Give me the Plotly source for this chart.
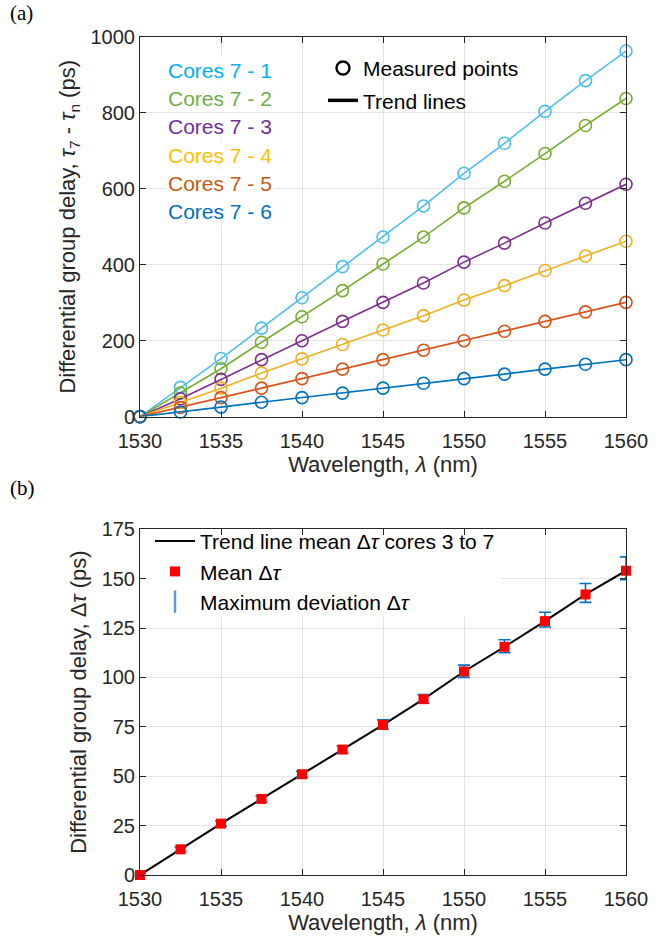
import plotly.graph_objects as go

# ---------------- data ----------------
wavelength = [1530, 1532.5, 1535, 1537.5, 1540, 1542.5, 1545, 1547.5, 1550, 1552.5, 1555, 1557.5, 1560]

core_labels = ["Cores 7 - 1", "Cores 7 - 2", "Cores 7 - 3", "Cores 7 - 4", "Cores 7 - 5", "Cores 7 - 6"]
cores_7_1 = [0, 77, 153, 233, 313, 395, 473, 555, 641, 720, 804, 885, 963]
cores_7_2 = [0, 62, 126, 196, 263, 332, 402, 473, 550, 620, 693, 767, 838]
cores_7_3 = [0, 47, 98, 150, 200, 251, 301, 352, 407, 457, 510, 562, 612]
cores_7_4 = [0, 37, 75, 115, 152, 190, 228, 266, 307, 345, 385, 423, 462]
cores_7_5 = [0, 24, 50, 75, 100, 125, 150, 175, 200, 225, 251, 276, 301]
cores_7_6 = [0, 12, 25, 38, 50, 62, 75, 88, 100, 112, 125, 138, 150]
core_series = [cores_7_1, cores_7_2, cores_7_3, cores_7_4, cores_7_5, cores_7_6]

mean_dtau = [0, 13, 26, 38.5, 51, 63.5, 76, 89, 103, 115.5, 128.5, 142, 154]
dev_plus = [1.0, 1.2, 1.3, 1.4, 1.5, 1.8, 2.5, 2.3, 3.2, 3.6, 4.5, 5.5, 7.0]
dev_minus = [1.0, 1.2, 1.3, 1.4, 1.5, 1.8, 2.2, 2.0, 3.0, 3.0, 3.0, 4.0, 4.5]

# ---------------- styles ----------------
line_colors = ["#4DBEEE", "#77AC30", "#7E2F8E", "#EDB120", "#D95319", "#0072BD"]
text_colors = ["#00B0F0", "#70AD47", "#7030A0", "#FFC000", "#C55A11", "#0070C0"]
FONT = "Liberation Sans, Arial, sans-serif"
AX = "#262626"
GRID = "#e3e3e3"
TICK_SIZE = 20
TITLE_SIZE = 22
LEG_SIZE = 21

fig = go.Figure()

for name, ys, col in zip(core_labels, core_series, line_colors):
    fig.add_trace(go.Scatter(
        x=wavelength, y=ys, mode="lines+markers", name=name, showlegend=False, cliponaxis=False,
        line=dict(color=col, width=1.6),
        marker=dict(symbol="circle-open", size=12, color=col, line=dict(width=1.6, color=col)),
        xaxis="x", yaxis="y"))

# legend2 dummy entries for panel (a)
fig.add_trace(go.Scatter(x=[None], y=[None], mode="markers", name="Measured points",
                         legendgroup="m",
                         marker=dict(symbol="circle-open", size=13, color="black", line=dict(width=2.4, color="black")),
                         legend="legend2", xaxis="x", yaxis="y"))
fig.add_trace(go.Scatter(x=[None], y=[None], mode="lines", name="Trend lines",
                         legendgroup="t",
                         line=dict(color="black", width=3.5),
                         legend="legend2", xaxis="x", yaxis="y"))

# panel (b)
fig.add_trace(go.Scatter(x=wavelength, y=mean_dtau, mode="lines", legendgroup="a",
                         name="Trend line mean Δ<i>τ</i> cores 3 to 7", cliponaxis=False,
                         line=dict(color="black", width=2), xaxis="x2", yaxis="y2"))
fig.add_trace(go.Scatter(x=wavelength, y=mean_dtau, mode="markers", showlegend=False, cliponaxis=False,
                         marker=dict(symbol="square", size=1, color="rgba(0,0,0,0)"),
                         error_y=dict(type="data", symmetric=False, array=dev_plus, arrayminus=dev_minus,
                                      color="#0072BD", thickness=1.6, width=6),
                         xaxis="x2", yaxis="y2"))
fig.add_trace(go.Scatter(x=wavelength, y=mean_dtau, mode="markers", name="Mean Δ<i>τ</i>",
                         legendgroup="b", cliponaxis=False,
                         marker=dict(symbol="square", size=10, color="#FF0000"),
                         xaxis="x2", yaxis="y2"))
fig.add_trace(go.Scatter(x=[None], y=[None], mode="markers", name="Maximum deviation Δ<i>τ</i>",
                         legendgroup="c",
                         marker=dict(symbol="line-ns", size=16, color="#5B9BD5",
                                     line=dict(width=2.5, color="#5B9BD5")),
                         xaxis="x2", yaxis="y2"))

axis_common = dict(showline=True, linecolor=AX, linewidth=1, mirror="ticks", ticks="inside",
                   ticklen=6, tickcolor=AX, showgrid=True, gridcolor=GRID, gridwidth=1,
                   zeroline=False, tickfont=dict(family=FONT, size=TICK_SIZE, color=AX))

xtitle = dict(text="Wavelength, <i>λ</i> (nm)", font=dict(family=FONT, size=TITLE_SIZE, color=AX), standoff=4)

fig.update_layout(
    width=669, height=941,
    margin=dict(l=140, r=43, t=37, b=63),
    paper_bgcolor="white", plot_bgcolor="white",
    font=dict(family=FONT, color=AX),
    xaxis=dict(domain=[0, 1], anchor="y", range=[1530, 1560], dtick=5, tick0=1530,
               ticklabelstandoff=6, title=xtitle, **axis_common),
    yaxis=dict(domain=[0.547, 1], anchor="x", range=[0, 1000], dtick=200,
               title=dict(text="Differential group delay, <i>τ</i><sub>7</sub> - <i>τ</i><sub>n</sub> (ps)",
                          font=dict(family=FONT, size=TITLE_SIZE, color=AX), standoff=8),
               **axis_common),
    xaxis2=dict(domain=[0, 1], anchor="y2", range=[1530, 1560], dtick=5, tick0=1530,
                ticklabelstandoff=6, title=xtitle, **axis_common),
    yaxis2=dict(domain=[0, 0.4126], anchor="x2", range=[0, 175], dtick=25,
                title=dict(text="Differential group delay, Δ<i>τ</i> (ps)",
                           font=dict(family=FONT, size=TITLE_SIZE, color=AX), standoff=8),
                **axis_common),
    legend=dict(x=0.0206, y=0.4225, xanchor="left", yanchor="top", bgcolor="rgba(255,255,255,0)",
                font=dict(family=FONT, size=LEG_SIZE, color="black"), itemwidth=40,
                tracegroupgap=0),
    legend2=dict(x=0.3765, y=0.987, xanchor="left", yanchor="top", bgcolor="rgba(255,255,255,0)",
                 font=dict(family=FONT, size=LEG_SIZE, color="black"), itemwidth=30,
                 tracegroupgap=2),
)

# white box behind legend of panel (b) (hides gridlines, like the reference)
fig.add_shape(type="rect", xref="x2", yref="y2", x0=1530.35, x1=1552.3, y0=131, y1=173.6,
              fillcolor="white", line=dict(width=0), layer="between")

# coloured core labels (panel a)
for i, (lab, col) in enumerate(zip(core_labels, text_colors)):
    fig.add_annotation(x=0.0535, y=0.9605 - i * 0.0338, xref="paper", yref="paper",
                       xanchor="left", yanchor="middle", text=lab, showarrow=False,
                       bgcolor="white", font=dict(family=FONT, size=LEG_SIZE, color=col))

# panel labels
fig.add_annotation(x=-0.272, y=1.045, xref="paper", yref="paper", xanchor="left", yanchor="top",
                   text="(a)", showarrow=False,
                   font=dict(family="Liberation Serif, Times New Roman, serif", size=21, color="black"))
fig.add_annotation(x=-0.272, y=0.479, xref="paper", yref="paper", xanchor="left", yanchor="top",
                   text="(b)", showarrow=False,
                   font=dict(family="Liberation Serif, Times New Roman, serif", size=21, color="black"))

fig.write_html("out.html")
